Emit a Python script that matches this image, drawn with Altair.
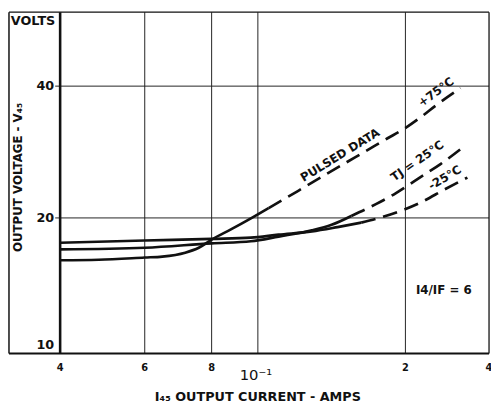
import altair as alt
import pandas as pd

# ---------------- data ----------------
# x axis (output current, A) : ticks / labels / grid
x_ticks = [0.04, 0.06, 0.08, 0.2, 0.4]
x_tick_labels = ["4", "6", "8", "2", "4"]
x_decade = [0.1]
x_decade_label = ["10⁻¹"]
x_grid = [0.06, 0.08, 0.1, 0.2]
# the hand-drawn axis of the original is not uniform: knots of the scale
x_knots = [0.04, 0.06, 0.08, 0.1, 0.2, 0.4]

# y axis (output voltage, V)
y_ticks = [20, 40]
y_tick_labels = ["20", "40"]
y_bottom_tick = [10]
y_bottom_label = ["10"]

# +75 C curve
t75_solid_i = [0.04, 0.0481, 0.06, 0.0647, 0.0714, 0.0757, 0.08, 0.088, 0.0967, 0.1052]
t75_solid_v = [16.01, 16.05, 16.24, 16.32, 16.66, 17.10, 17.85, 18.85, 19.95, 21.06]
t75_dash_i = [0.1052, 0.1122, 0.1209, 0.1320, 0.1481, 0.1663, 0.1832, 0.1986, 0.2260, 0.2575, 0.3158]
t75_dash_v = [21.06, 21.97, 23.07, 24.45, 26.38, 28.46, 30.33, 31.94, 33.90, 36.14, 39.59]

# TJ = 25 C curve
t25_solid_i = [0.04, 0.06, 0.08, 0.0967, 0.1102, 0.1289, 0.1414, 0.1551]
t25_solid_v = [16.95, 17.10, 17.50, 17.69, 18.13, 18.73, 19.29, 20.21]
t25_dash_i = [0.1551, 0.1741, 0.1910, 0.2224, 0.2683, 0.3263]
t25_dash_v = [20.21, 21.50, 22.76, 24.60, 26.58, 29.18]

# -25 C curve
tm25_solid_i = [0.04, 0.06, 0.08, 0.0967, 0.1102, 0.1289, 0.1454, 0.1625]
tm25_solid_v = [17.55, 17.76, 17.91, 18.03, 18.32, 18.63, 19.06, 19.51]
tm25_dash_i = [0.1625, 0.1782, 0.1963, 0.2260, 0.2771, 0.3343]
tm25_dash_v = [19.51, 20.05, 20.79, 21.67, 23.24, 24.73]

# annotations (text, current, voltage, angle)
ann_text = ["PULSED DATA", "+75°C", "TJ = 25°C", "-25°C"]
ann_i = [0.1471, 0.2575, 0.2206, 0.2771]
ann_v = [27.85, 38.78, 27.0, 24.73]
ann_angle = [328.5, 324, 325, 329]

ratio_text = ["I4/IF = 6"]
ratio_i = [0.2749]
ratio_v = [13.71]

x_title = "I₄₅ OUTPUT CURRENT - AMPS"
y_title = "OUTPUT VOLTAGE - V₄₅"
y_unit = "VOLTS"

# ---------------- build tables ----------------
rows = []
for name, seg, I, V in [
    ("+75", "solid", t75_solid_i, t75_solid_v),
    ("+75", "dash", t75_dash_i, t75_dash_v),
    ("25", "solid", t25_solid_i, t25_solid_v),
    ("25", "dash", t25_dash_i, t25_dash_v),
    ("-25", "solid", tm25_solid_i, tm25_solid_v),
    ("-25", "dash", tm25_dash_i, tm25_dash_v),
]:
    for k, (i, v) in enumerate(zip(I, V)):
        rows.append({"curve": name + seg, "seg": seg, "current": i, "voltage": v, "order": k})
df = pd.DataFrame(rows)

W, H = 436, 347
FONT = "DejaVu Sans"
INK = "#111111"

xs = alt.Scale(type="log", domain=x_knots, range=[0, 86, 154, 201, 351, 436], nice=False)
ys = alt.Scale(type="log", domain=[9.8, 59], nice=False)

X = lambda: alt.X("current:Q", scale=xs, axis=None)
Y = lambda: alt.Y("voltage:Q", scale=ys, axis=None)

solid = alt.Chart(df[df.seg == "solid"]).mark_line(
    color=INK, strokeWidth=2.7, interpolate="monotone"
).encode(x=X(), y=Y(), detail="curve:N", order="order:Q")

dashed = alt.Chart(df[df.seg == "dash"]).mark_line(
    color=INK, strokeWidth=2.7, interpolate="monotone", strokeDash=[15, 8]
).encode(x=X(), y=Y(), detail="curve:N", order="order:Q")

grid_v = alt.Chart(pd.DataFrame({"current": x_grid})).mark_rule(
    color="#222222", strokeWidth=1
).encode(x=X())

# horizontal grid lines, extended left of the axis as ticks
grid_h = alt.Chart(pd.DataFrame({"voltage": y_ticks})).mark_rule(
    color="#222222", strokeWidth=1
).encode(y=Y(), x=alt.value(-5), x2=alt.value(W))

one = pd.DataFrame({"k": [0]})
frame_top = alt.Chart(one).mark_rule(color=INK, strokeWidth=1.3).encode(
    x=alt.value(-52), x2=alt.value(W), y=alt.value(0))
frame_right = alt.Chart(one).mark_rule(color=INK, strokeWidth=1.3).encode(
    x=alt.value(W), y=alt.value(0), y2=alt.value(H))
frame_left = alt.Chart(one).mark_rule(color=INK, strokeWidth=1.5).encode(
    x=alt.value(-52), y=alt.value(0), y2=alt.value(H))
frame_bottom = alt.Chart(one).mark_rule(color=INK, strokeWidth=2).encode(
    x=alt.value(-52), x2=alt.value(W), y=alt.value(H))
y_axis_line = alt.Chart(one).mark_rule(color=INK, strokeWidth=2.6).encode(
    x=alt.value(0), y=alt.value(0), y2=alt.value(H))

volts = alt.Chart(one).mark_text(
    text=y_unit, font=FONT, fontSize=13, fontWeight="bold", color=INK,
    align="center", baseline="middle"
).encode(x=alt.value(-27.5), y=alt.value(9))

ytitle = alt.Chart(one).mark_text(
    text=y_title, font=FONT, fontSize=12, fontWeight="bold", color=INK,
    align="center", baseline="middle", angle=270
).encode(x=alt.value(-43), y=alt.value(168))

xtitle = alt.Chart(one).mark_text(
    text=x_title, font=FONT, fontSize=13, fontWeight="bold", color=INK,
    align="center", baseline="middle"
).encode(x=alt.value(201), y=alt.value(H + 44))

ylab = alt.Chart(pd.DataFrame({"voltage": y_ticks, "lab": y_tick_labels})).mark_text(
    font=FONT, fontSize=13, fontWeight="bold", color=INK, align="right", baseline="middle"
).encode(x=alt.value(-6), y=Y(), text="lab:N")

y10 = alt.Chart(pd.DataFrame({"voltage": y_bottom_tick, "lab": y_bottom_label})).mark_text(
    font=FONT, fontSize=13, fontWeight="bold", color=INK, align="right", baseline="bottom", dy=2
).encode(x=alt.value(-6), y=Y(), text="lab:N")

xt = alt.Chart(pd.DataFrame({"current": x_ticks, "lab": x_tick_labels})).mark_text(
    font=FONT, fontSize=10, fontWeight="bold", color=INK, baseline="middle", align="center"
).encode(x=X(), y=alt.value(H + 14.5), text="lab:N")

xd = alt.Chart(pd.DataFrame({"current": x_decade, "lab": x_decade_label})).mark_text(
    font=FONT, fontSize=15, color=INK, baseline="middle", align="center", dx=-2
).encode(x=X(), y=alt.value(H + 21.5), text="lab:N")

ann = alt.Chart(pd.DataFrame({"current": ann_i, "voltage": ann_v, "lab": ann_text, "ang": ann_angle})).mark_text(
    font=FONT, fontSize=12, fontWeight="bold", color=INK, baseline="middle", align="center"
).encode(x=X(), y=Y(), text="lab:N", angle=alt.Angle("ang:Q", scale=None))

ratio = alt.Chart(pd.DataFrame({"current": ratio_i, "voltage": ratio_v, "lab": ratio_text})).mark_text(
    font=FONT, fontSize=12, fontWeight="bold", color=INK, baseline="middle", align="center"
).encode(x=X(), y=Y(), text="lab:N")

chart = alt.layer(
    grid_v, grid_h, frame_top, frame_right, frame_left, frame_bottom, y_axis_line,
    solid, dashed, xt, xd, ylab, y10, ann, ratio, volts, ytitle, xtitle,
).properties(
    width=W, height=H,
    padding={"left": 53, "top": 1, "right": 2, "bottom": 50},
    autosize=alt.AutoSizeParams(type="none"),
    background="white",
).configure_view(stroke=None)

chart.save("out.html", embed_options={"renderer": "svg", "actions": False})
